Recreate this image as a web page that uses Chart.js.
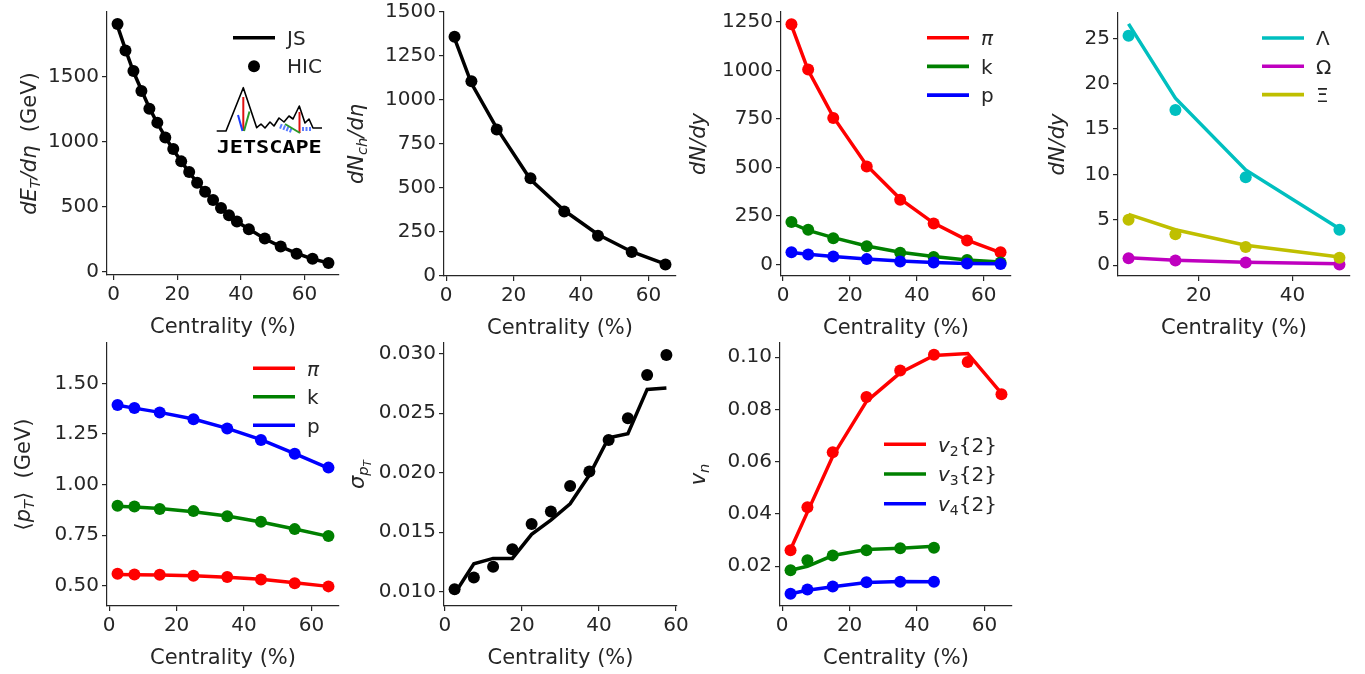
<!DOCTYPE html>
<html>
<head>
<meta charset="utf-8">
<script src="https://cdn.jsdelivr.net/npm/chart.js@4.4.1/dist/chart.umd.min.js"></script>
<style>
  body { margin: 0; background: #fff; width: 1365px; height: 674px; overflow: hidden; position: relative; }
  canvas { position: absolute; }
</style>
</head>
<body>
<script>
// centrality bins (%)
const cent22 = [1.25, 3.75, 6.25, 8.75, 11.25, 13.75, 16.25, 18.75, 21.25, 23.75, 26.25, 28.75,
                31.25, 33.75, 36.25, 38.75, 42.5, 47.5, 52.5, 57.5, 62.5, 67.5];
const cent8 = [2.5, 7.5, 15, 25, 35, 45, 55, 65];
const cent6 = [2.5, 7.5, 15, 25, 35, 45];
const centHyp = [5, 15, 30, 50];
const centSig = [2.5, 7.5, 12.5, 17.5, 22.5, 27.5, 32.5, 37.5, 42.5, 47.5, 52.5, 57.5];

// dE_T/deta
const dEtHic = [1901, 1697, 1540, 1387, 1252, 1145, 1031, 942, 848, 766, 685, 616, 552, 491, 435, 387, 328, 257, 196, 140, 102, 69];
const dEtJs  = [1885, 1705, 1535, 1395, 1258, 1140, 1035, 935, 850, 762, 688, 612, 555, 488, 438, 385, 330, 255, 195, 142, 100, 70];

// dNch/deta
const dNchHic = [1359, 1106, 832, 556, 367, 229, 136, 66];
const dNchJs  = [1350, 1095, 840, 548, 372, 236, 138, 68];

// identified hadron yields
const piYieldHic = [1238, 1005, 754, 504, 333, 211, 123, 62];
const piYieldJs  = [1232, 1000, 760, 510, 338, 213, 125, 60];
const kYieldHic  = [218, 178, 135, 93, 60, 38, 22, 10];
const kYieldJs   = [212, 175, 138, 95, 62, 40, 22, 12];
const pYieldHic  = [63, 51, 41, 27, 15, 9, 4, 2];
const pYieldJs   = [61, 52, 40, 28, 17, 10, 5, 3];

// strange baryons
const lamHic = [25.3, 17.1, 9.7, 3.9];
const lamJs  = [26.6, 18.4, 10.5, 4.0];
const omgHic = [0.77, 0.5, 0.3, 0.07];
const omgJs  = [0.8, 0.55, 0.32, 0.15];
const xiHic  = [5.0, 3.4, 2.0, 0.8];
const xiJs   = [5.6, 3.9, 2.2, 0.9];

// mean pT
const piPtHic = [0.559, 0.556, 0.554, 0.549, 0.543, 0.531, 0.513, 0.497];
const piPtJs  = [0.556, 0.555, 0.553, 0.550, 0.542, 0.532, 0.515, 0.497];
const kPtHic  = [0.895, 0.892, 0.880, 0.869, 0.844, 0.816, 0.780, 0.746];
const kPtJs   = [0.893, 0.889, 0.882, 0.866, 0.845, 0.815, 0.781, 0.744];
const pPtHic  = [1.393, 1.379, 1.356, 1.323, 1.277, 1.221, 1.152, 1.084];
const pPtJs   = [1.392, 1.378, 1.357, 1.324, 1.278, 1.222, 1.153, 1.082];

// pT fluctuations
const sigHic = [0.0102, 0.0112, 0.0121, 0.01356, 0.01569, 0.01675, 0.01888, 0.02011, 0.02275, 0.02457, 0.02821, 0.02989];
const sigJs  = [0.00983, 0.01235, 0.0128, 0.0128, 0.01482, 0.01602, 0.01739, 0.0198, 0.02294, 0.02328, 0.0270, 0.02711];

// flow
const v2Hic = [0.0261, 0.0426, 0.0636, 0.0847, 0.0949, 0.1009, 0.0981, 0.0858];
const v2Js  = [0.0264, 0.0407, 0.0621, 0.0831, 0.0940, 0.1006, 0.1014, 0.0861];
const v3Hic = [0.0185, 0.0223, 0.0241, 0.0261, 0.0269, 0.0271];
const v3Js  = [0.0185, 0.0200, 0.0241, 0.0264, 0.0269, 0.0277];
const v4Hic = [0.0095, 0.0111, 0.0123, 0.0139, 0.0141, 0.0141];
const v4Js  = [0.0095, 0.0108, 0.0122, 0.0138, 0.0142, 0.0141];

const FONT = '"DejaVu Sans", sans-serif';
const INK = '#262626';
const RED = '#ff0000', GREEN = '#008000', BLUE = '#0000ff';
const CYAN = '#00bfbf', MAG = '#bf00bf', YEL = '#bfbf00';
const PL = 105, PT = 14, PR = 22, PB = 62;

function xy(xs, ys) {
    return xs.map((x, i) => ({ x: x, y: ys[i] }));
}

// styles: '' normal, 'i' italic, 's' italic subscript, 'sr' upright subscript, 'ss' sub-subscript
function styleOf(st, size) {
    const sub = st[0] === 's';
    const k = st === 'ss' ? 0.5 : (sub ? 0.7 : 1);
    const shift = st === 'ss' ? 0.36 * size : (sub ? 0.2 * size : 0);
    const ital = st === 'i' || st === 's' || st === 'ss';
    return { font: (ital ? 'italic ' : '') + (size * k) + 'px ' + FONT, shift: shift };
}

function drawRich(ctx, parts, x, y, size, align) {
    let w = 0;
    parts.forEach(([t, st]) => { ctx.font = styleOf(st, size).font; w += ctx.measureText(t).width; });
    let cx = align === 'center' ? x - w / 2 : x;
    ctx.textAlign = 'left';
    parts.forEach(([t, st]) => {
        const s = styleOf(st, size);
        ctx.font = s.font;
        ctx.fillText(t, cx, y + s.shift);
        cx += ctx.measureText(t).width;
    });
}

function drawLogo(ctx) {
    ctx.lineJoin = 'round';
    ctx.strokeStyle = '#000';
    ctx.lineWidth = 1.6;
    const outline = [[216.7, 130], [226, 130], [243.3, 86.7], [256.7, 126.7], [261, 123], [265, 127], [270, 121],
                     [274, 125], [279, 117], [284, 121], [289, 115], [293, 118], [299.3, 105], [305, 122],
                     [309, 118], [313, 127], [322, 127]];
    ctx.beginPath();
    outline.forEach((p, i) => i ? ctx.lineTo(p[0], p[1]) : ctx.moveTo(p[0], p[1]));
    ctx.stroke();
    const seg = (c, w, a, b) => {
        ctx.strokeStyle = c; ctx.lineWidth = w;
        ctx.beginPath(); ctx.moveTo(a[0], a[1]); ctx.lineTo(b[0], b[1]); ctx.stroke();
    };
    ctx.setLineDash([2, 1.5]);
    seg('#5a7cff', 5, [280, 125], [293, 130]);
    seg('#5a7cff', 4, [302, 128], [312, 128]);
    ctx.setLineDash([]);
    seg('#e01010', 2, [243.3, 96], [243.3, 130]);
    seg('#1a3cff', 2, [238, 114], [242.5, 130]);
    seg('#2a9a2a', 2, [244, 130], [249.5, 110.5]);
    seg('#e01010', 2, [299.5, 111], [299.5, 132]);
    seg('#2a9a2a', 2, [285, 123], [300, 132]);
    ctx.fillStyle = '#000';
    ctx.font = 'bold 18px "DejaVu Sans Mono", monospace';
    ctx.textAlign = 'left';
    const w = ctx.measureText('JETSCAPE').width;
    ctx.save();
    ctx.translate(216.7, 151.7);
    ctx.scale(105 / w, 1);
    ctx.fillText('JETSCAPE', 0, 0);
    ctx.restore();
}

const decor = {
    id: 'decor',
    afterDraw(chart, args, o) {
        const ctx = chart.ctx, a = chart.chartArea;
        ctx.save();
        ctx.fillStyle = INK;
        ctx.textBaseline = 'alphabetic';
        drawRich(ctx, [['Centrality (%)', '']], (a.left + a.right) / 2, a.bottom + 58, 21, 'center');
        ctx.save();
        ctx.translate(a.left - o.ytx, (a.top + a.bottom) / 2);
        ctx.rotate(-Math.PI / 2);
        drawRich(ctx, o.ytitle, 0, 0.36 * 21, 21, 'center');
        ctx.restore();
        if (o.legend) {
            const L = o.legend;
            L.items.forEach((it, i) => {
                const y = a.top + L.ly + i * L.gap;
                const x0 = a.left + L.lx;
                if (it.kind === 'dot') {
                    ctx.fillStyle = it.color;
                    ctx.beginPath(); ctx.arc(x0 + 21, y, 6, 0, Math.PI * 2); ctx.fill();
                } else {
                    ctx.strokeStyle = it.color; ctx.lineWidth = 3.6;
                    ctx.beginPath(); ctx.moveTo(x0, y); ctx.lineTo(x0 + 42, y); ctx.stroke();
                }
                ctx.fillStyle = INK;
                drawRich(ctx, it.parts, x0 + 54, y + 7.2, 20, 'left');
            });
        }
        if (o.logo) {
            ctx.translate(a.left - o.box[0], a.top - o.box[1]);
            drawLogo(ctx);
        }
        ctx.restore();
    }
};

function serie(xs, ys, color, kind) {
    return { xs: xs, ys: ys, color: color, kind: kind };
}

const panels = [
    { box: [107, 11, 232, 264], x: [-2.06, 70.81], y: [-23, 1993], ystep: 500, ydec: 0, ytx: 79,
      ytitle: [['dE', 'i'], ['T', 's'], ['/dη', 'i'], ['  (GeV)', '']], logo: true,
      series: [serie(cent22, dEtJs, '#000', 'line'), serie(cent22, dEtHic, '#000', 'dot')],
      legend: { lx: 126, ly: 25.7, gap: 28.5, items: [
          { parts: [['JS', '']], color: '#000', kind: 'line' },
          { parts: [['HIC', '']], color: '#000', kind: 'dot' }] } },
    { box: [444, 11, 232, 264.7], x: [-0.625, 68.125], y: [0, 1500], ystep: 250, ydec: 0, ytx: 89,
      ytitle: [['dN', 'i'], ['ch', 's'], ['/dη', 'i']],
      series: [serie(cent8, dNchJs, '#000', 'line'), serie(cent8, dNchHic, '#000', 'dot')] },
    { box: [781, 11, 230, 264.7], x: [-0.625, 68.125], y: [-60, 1301], ystep: 250, ydec: 0, ytx: 84,
      ytitle: [['dN/dy', 'i']],
      series: [serie(cent8, piYieldJs, RED, 'line'), serie(cent8, piYieldHic, RED, 'dot'),
               serie(cent8, kYieldJs, GREEN, 'line'), serie(cent8, kYieldHic, GREEN, 'dot'),
               serie(cent8, pYieldJs, BLUE, 'line'), serie(cent8, pYieldHic, BLUE, 'dot')],
      legend: { lx: 146, ly: 25.7, gap: 28.7, items: [
          { parts: [['π', 'i']], color: RED }, { parts: [['k', '']], color: GREEN }, { parts: [['p', '']], color: BLUE }] } },
    { box: [1118, 11.7, 232, 264], x: [2.75, 52.25], y: [-1.2, 27.8], ystep: 5, ydec: 0, ytx: 62,
      ytitle: [['dN/dy', 'i']],
      series: [serie(centHyp, lamJs, CYAN, 'line'), serie(centHyp, lamHic, CYAN, 'dot'),
               serie(centHyp, omgJs, MAG, 'line'), serie(centHyp, omgHic, MAG, 'dot'),
               serie(centHyp, xiJs, YEL, 'line'), serie(centHyp, xiHic, YEL, 'dot')],
      legend: { lx: 144, ly: 25, gap: 28.3, items: [
          { parts: [['Λ', '']], color: CYAN }, { parts: [['Ω', '']], color: MAG }, { parts: [['Ξ', '']], color: YEL }] } },
    { box: [107, 342, 232, 264], x: [-0.625, 68.125], y: [0.4, 1.7], ystep: 0.25, ydec: 2, ytx: 85,
      ytitle: [['⟨', ''], ['p', 'i'], ['T', 's'], ['⟩  (GeV)', '']],
      series: [serie(cent8, piPtJs, RED, 'line'), serie(cent8, piPtHic, RED, 'dot'),
               serie(cent8, kPtJs, GREEN, 'line'), serie(cent8, kPtHic, GREEN, 'dot'),
               serie(cent8, pPtJs, BLUE, 'line'), serie(cent8, pPtHic, BLUE, 'dot')],
      legend: { lx: 146, ly: 25.3, gap: 28.5, items: [
          { parts: [['π', 'i']], color: RED }, { parts: [['k', '']], color: GREEN }, { parts: [['p', '']], color: BLUE }] } },
    { box: [444, 342, 233, 264], x: [-0.25, 60.25], y: [0.0088, 0.0309], ystep: 0.005, ydec: 3, ytx: 88,
      ytitle: [['σ', 'i'], ['p', 's'], ['T', 'ss']],
      series: [serie(centSig, sigJs, '#000', 'line'), serie(centSig, sigHic, '#000', 'dot')] },
    { box: [780, 342, 232, 264], x: [-0.625, 68.125], y: [0.0048, 0.1054], ystep: 0.02, ydec: 2, ytx: 83,
      ytitle: [['v', 'i'], ['n', 's']],
      series: [serie(cent8, v2Js, RED, 'line'), serie(cent8, v2Hic, RED, 'dot'),
               serie(cent6, v3Js, GREEN, 'line'), serie(cent6, v3Hic, GREEN, 'dot'),
               serie(cent6, v4Js, BLUE, 'line'), serie(cent6, v4Hic, BLUE, 'dot')],
      legend: { lx: 104, ly: 101.3, gap: 29.7, items: [
          { parts: [['v', 'i'], ['2', 'sr'], ['{2}', '']], color: RED },
          { parts: [['v', 'i'], ['3', 'sr'], ['{2}', '']], color: GREEN },
          { parts: [['v', 'i'], ['4', 'sr'], ['{2}', '']], color: BLUE }] } }
];

// ticks at whole multiples of the step inside [min, max], like matplotlib
function stepTicks(min, max, step) {
    const out = [];
    const k0 = Math.ceil(min / step - 1e-9), k1 = Math.floor(max / step + 1e-9);
    for (let k = k0; k <= k1; k++) out.push({ value: +(k * step).toFixed(6) });
    return out;
}

function axisCommon(min, max, step, dec) {
    return {
        type: 'linear', min: min, max: max,
        afterBuildTicks: (sc) => { sc.ticks = stepTicks(min, max, step); },
        ticks: { autoSkip: false, maxRotation: 0,
                 font: { family: FONT, size: 20 }, color: INK, padding: 3,
                 callback: (v) => Number(v).toFixed(dec) },
        grid: { drawOnChartArea: false, drawTicks: true, tickLength: 5, color: INK, lineWidth: 1.2 },
        border: { display: true, color: INK, width: 1.2 }
    };
}

panels.forEach((p) => {
    const cv = document.createElement('canvas');
    const [l, t, w, h] = p.box;
    cv.width = Math.round(w + PL + PR);
    cv.height = Math.round(h + PT + PB);
    cv.style.left = (l - PL) + 'px';
    cv.style.top = (t - PT) + 'px';
    document.body.appendChild(cv);

    const n = p.series.length;
    const datasets = p.series.map((s, i) => ({
        data: xy(s.xs, s.ys),
        borderColor: s.color,
        backgroundColor: s.color,
        borderWidth: 3.5,
        showLine: s.kind === 'line',
        pointRadius: s.kind === 'dot' ? 6 : 0,
        pointBorderWidth: 0,
        pointBackgroundColor: s.color,
        tension: 0,
        clip: false,
        order: n - i
    }));

    const xs = axisCommon(p.x[0], p.x[1], 20, 0);
    xs.afterFit = (sc) => { sc.height = PB; };
    const ys = axisCommon(p.y[0], p.y[1], p.ystep, p.ydec);
    ys.afterFit = (sc) => { sc.width = PL; };

    new Chart(cv, {
        type: 'line',
        data: { datasets: datasets },
        options: {
            responsive: false,
            animation: false,
            devicePixelRatio: 1,
            layout: { padding: { left: 0, top: PT, right: PR, bottom: 0 } },
            plugins: {
                legend: { display: false },
                tooltip: { enabled: false },
                decor: { ytitle: p.ytitle, ytx: p.ytx, legend: p.legend, logo: p.logo, box: p.box }
            },
            scales: { x: xs, y: ys }
        },
        plugins: [decor]
    });
});
</script>
</body>
</html>
